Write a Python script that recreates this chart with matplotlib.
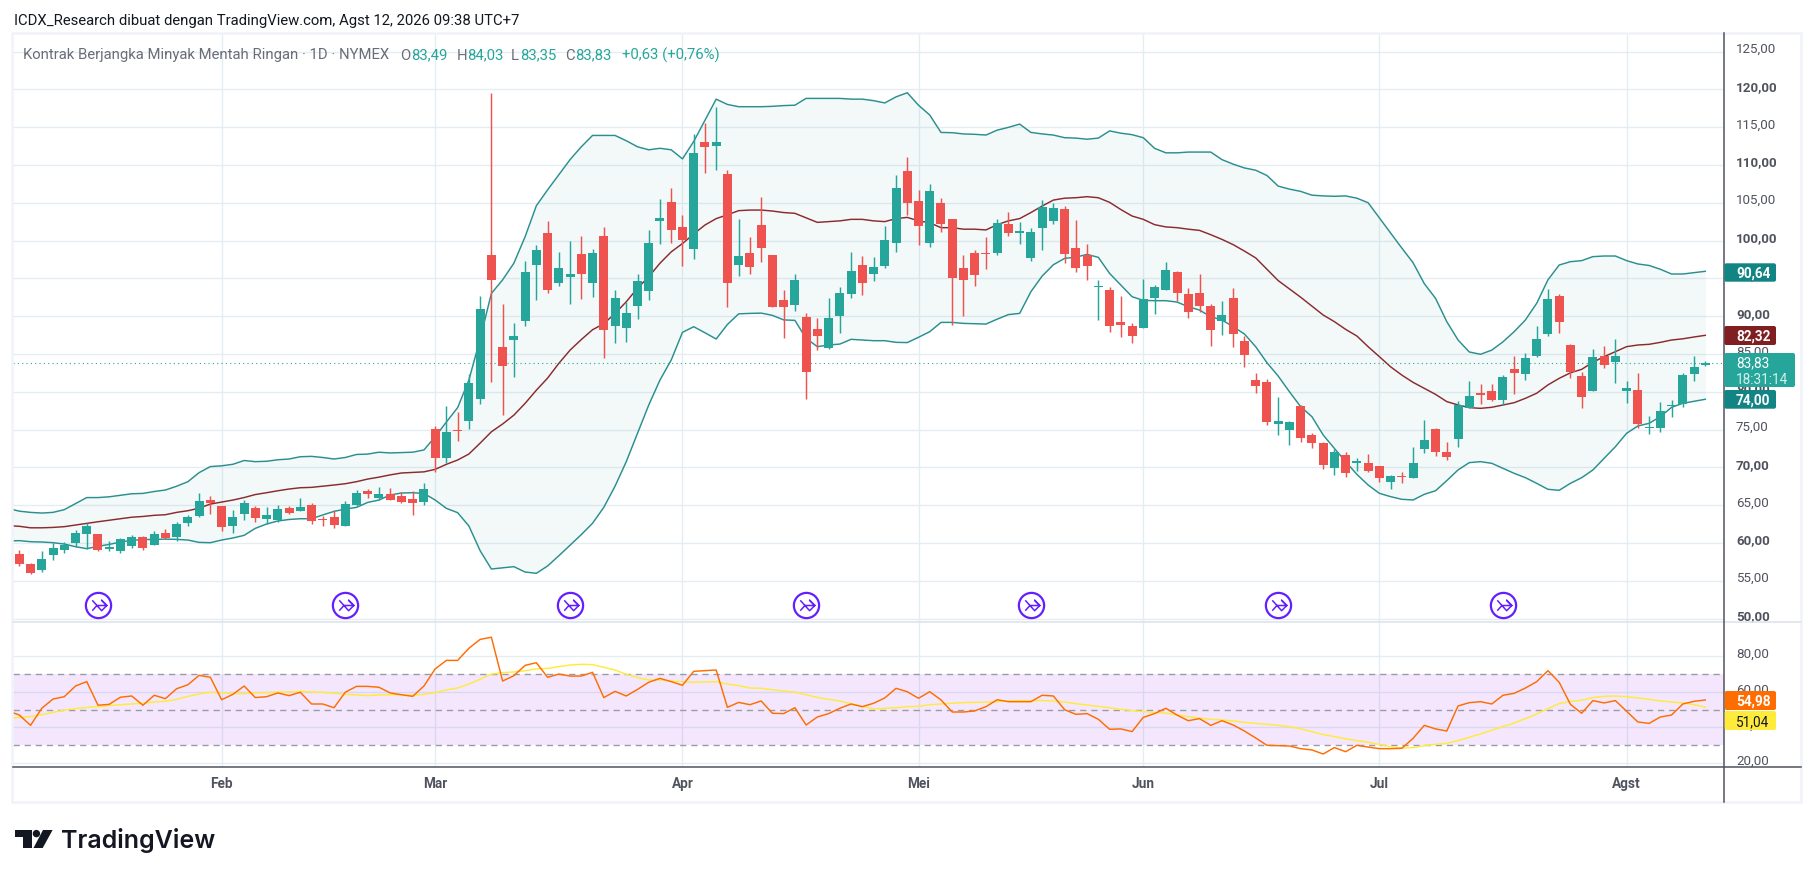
import matplotlib
matplotlib.use('Agg')
import matplotlib.pyplot as plt
import numpy as np
from matplotlib.patches import Rectangle, Polygon, Circle, FancyBboxPatch
from matplotlib.path import Path
from matplotlib.transforms import Affine2D, ScaledTranslation

plt.rcParams['font.family'] = ['Roboto', 'DejaVu Sans']

# daily candles, one row per session
opens = [58.53,57.21,56.41,58.40,59.06,59.99,61.18,61.18,59.19,58.93,59.59,60.78,59.72,61.31,60.78,62.63,63.56,65.67,64.88,62.23,
         63.82,64.61,63.16,63.03,64.61,64.22,65.01,63.20,63.42,62.23,65.01,66.86,65.94,66.47,66.20,65.81,65.41,75.07,71.23,74.94,
         76.13,79.03,98.08,85.91,86.84,89.35,96.76,100.99,94.38,95.17,98.21,94.38,100.60,88.69,88.43,91.34,93.32,102.58,105.09,101.79,
         98.88,113.03,112.50,108.80,96.76,98.35,102.05,98.08,92.13,91.47,89.88,88.29,85.78,90.01,92.92,96.76,95.57,96.62,99.67,109.19,
         105.22,99.67,104.96,102.84,96.36,98.34,98.34,98.34,102.18,101.03,97.68,101.65,102.58,104.16,99.00,98.08,93.85,93.45,89.22,88.69,
         88.42,92.39,93.45,95.83,92.92,93.05,91.33,89.35,92.39,86.70,81.54,81.28,75.72,74.93,78.11,74.28,73.22,69.91,71.63,70.62,
         70.57,70.18,68.06,68.85,68.59,72.42,75.07,72.03,73.75,77.85,79.83,80.10,78.91,83.01,82.35,84.73,87.64,92.66,86.18,82.08,
         80.10,84.73,83.93,80.10,80.23,75.25,75.20,78.11,78.38,82.35,83.49]
highs = [59.06,57.34,58.93,60.03,60.12,61.70,62.59,61.18,60.25,60.65,61.04,60.91,61.57,61.84,62.76,63.69,66.60,66.20,64.88,64.35,
         65.67,64.88,64.75,65.01,64.88,65.94,65.28,63.56,64.35,65.54,66.99,67.13,67.39,67.26,66.73,66.86,67.92,75.47,78.11,77.32,
         82.35,92.66,119.51,91.60,89.09,97.29,99.40,102.58,98.48,99.93,100.60,98.88,101.79,93.45,91.87,95.57,101.39,105.49,106.94,103.37,
         114.09,115.54,117.66,109.33,102.84,100.46,105.75,98.08,93.45,95.57,90.41,89.75,92.39,93.85,98.48,97.95,97.82,101.91,108.66,111.04,
         106.68,107.47,105.62,102.84,98.08,98.74,100.46,102.84,103.77,102.44,101.65,105.35,104.96,104.56,102.71,99.53,94.77,93.85,92.66,89.08,
         94.90,94.11,97.15,95.96,93.71,95.57,91.60,91.99,93.71,87.36,82.47,81.68,79.29,76.12,78.24,74.54,73.35,72.42,72.03,71.23,
         71.76,70.18,68.99,69.38,72.69,76.26,75.20,73.35,78.77,81.42,81.02,81.02,82.21,84.73,85.12,88.69,93.59,92.93,86.31,82.61,
         85.65,86.05,86.97,81.42,82.48,76.79,78.64,78.91,82.48,84.73,84.03]
lows = [56.94,55.88,56.15,57.74,58.66,59.50,59.19,58.93,58.93,58.66,59.32,59.06,59.72,60.47,60.25,62.23,63.42,63.82,61.57,61.31,
        63.03,62.76,62.50,62.76,63.82,64.22,62.50,62.23,61.97,62.23,64.88,65.94,65.67,65.67,65.28,63.69,65.01,69.38,70.57,73.48,
        75.07,78.37,81.28,76.92,81.94,88.69,92.13,93.06,93.98,91.60,92.26,92.53,84.46,86.44,86.57,89.62,92.13,99.54,99.67,96.63,
        97.55,108.93,109.33,91.20,95.30,95.57,97.16,91.20,87.10,90.67,79.03,85.52,85.65,87.76,92.39,92.79,94.64,96.36,98.48,103.37,
        99.40,99.14,101.12,88.82,90.01,93.98,96.23,98.08,100.59,99.53,97.28,98.74,102.18,97.02,95.83,94.77,89.48,87.89,87.23,86.44,
        88.42,90.27,93.45,91.99,89.74,90.54,86.04,87.50,85.91,83.26,79.82,75.59,74.27,72.95,73.34,72.56,69.78,68.99,68.72,69.51,
        69.38,68.06,67.13,67.93,68.59,71.89,71.50,70.97,72.69,77.85,78.38,78.77,78.25,79.70,81.55,84.59,87.37,87.77,81.82,77.85,
        80.10,83.14,81.15,78.51,75.20,74.41,74.67,76.66,77.98,81.42,83.35]
closes = [57.21,56.02,57.87,59.32,59.72,61.31,62.23,59.06,59.46,60.51,60.78,59.32,61.18,60.65,62.50,63.38,65.54,65.28,62.10,63.42,
          65.28,63.29,63.69,64.48,63.95,64.75,62.90,63.07,62.37,65.14,66.60,66.47,66.47,65.67,65.41,65.28,67.13,71.23,74.67,74.81,
          81.16,90.94,94.77,83.40,87.37,95.83,98.74,93.45,96.36,95.57,95.57,98.35,88.16,92.39,90.41,94.64,99.67,102.98,101.39,100.07,
          111.57,112.37,113.03,94.38,97.95,96.50,99.01,91.20,91.20,94.77,82.61,87.37,89.75,93.06,95.97,94.38,96.50,100.06,106.94,104.96,
          101.91,106.54,102.18,95.04,94.77,95.43,98.21,102.31,100.99,101.25,101.12,104.43,104.29,98.21,96.36,96.62,93.98,88.69,88.82,87.36,
          92.26,93.85,96.09,93.05,90.54,91.33,88.16,90.14,87.63,84.85,80.75,75.99,76.12,75.99,73.87,73.22,70.31,72.03,69.25,70.84,
          69.51,68.59,68.85,68.72,70.57,73.61,72.03,71.37,78.25,79.43,79.57,78.91,81.95,82.48,84.46,86.97,92.27,89.22,82.61,79.30,
          84.59,83.54,84.73,80.49,75.73,75.38,77.45,78.25,82.21,83.27,83.83]

# bollinger bands, these start one session before the first visible candle
bb_upper = [64.57,64.20,64.04,63.95,64.04,64.40,65.20,66.00,66.00,66.10,66.30,66.50,66.55,66.80,67.00,67.50,68.10,69.30,70.10,70.20,
            70.40,70.90,70.75,70.80,71.00,71.10,71.40,71.45,71.30,71.10,71.30,71.70,71.75,72.00,71.90,71.95,72.00,72.30,74.05,76.00,
            77.90,81.55,87.00,93.00,94.80,97.00,100.50,104.60,106.70,108.70,110.70,112.40,113.90,113.90,113.90,113.20,112.40,112.00,112.20,112.00,
            110.80,113.10,115.90,118.70,118.00,117.70,117.70,117.70,117.75,117.85,117.90,118.80,118.80,118.80,118.80,118.70,118.70,118.50,118.20,119.00,
            119.55,117.90,116.60,114.30,114.26,114.10,114.05,113.95,114.60,114.97,115.40,114.30,114.10,113.95,113.60,113.55,113.40,113.55,114.50,114.20,
            114.00,113.60,112.20,111.60,111.60,111.70,111.70,111.70,110.70,110.10,109.60,109.30,108.60,107.20,106.80,106.50,106.00,105.90,105.85,105.90,
            105.60,105.00,103.00,101.00,99.00,97.07,94.30,92.35,89.27,86.85,85.26,84.95,85.50,86.60,87.95,89.50,91.70,94.80,96.76,97.20,
            97.34,97.87,97.95,97.95,97.34,96.90,96.70,96.20,95.57,95.57,95.75,95.93]
bb_middle = [62.28,62.20,62.00,62.00,62.05,62.15,62.37,62.60,62.80,63.00,63.20,63.40,63.50,63.65,63.73,64.04,64.26,64.60,65.14,65.40,
             65.67,66.00,66.40,66.64,66.90,67.13,67.30,67.35,67.50,67.66,67.83,68.10,68.45,68.70,69.00,69.25,69.33,69.40,69.73,70.40,
             70.97,71.76,73.20,74.70,75.73,76.90,78.46,80.20,81.80,83.75,85.50,86.90,88.20,89.00,90.35,91.90,93.70,95.20,97.00,98.50,
             99.60,100.86,102.05,102.90,103.40,103.95,104.03,104.03,103.90,103.70,103.60,103.00,102.40,102.50,102.60,102.80,102.80,102.60,102.50,102.90,
             103.06,102.60,102.35,101.70,101.70,101.50,101.50,101.40,102.10,102.60,102.90,103.70,104.56,105.35,105.60,105.66,105.80,105.66,105.05,104.10,
             103.24,102.80,102.10,101.80,101.70,101.50,101.34,100.77,100.15,99.45,98.60,97.70,96.20,94.70,93.60,92.50,91.33,90.15,89.27,88.25,
             87.37,85.96,84.64,83.30,82.20,81.24,80.45,79.65,78.69,78.25,77.90,77.80,77.94,78.25,78.55,79.13,79.80,80.90,81.77,82.50,
             82.96,83.90,84.64,85.30,85.96,86.18,86.27,86.53,86.84,87.00,87.24,87.46]
bb_lower = [60.25,60.30,60.16,60.12,60.03,59.85,59.50,59.24,59.55,59.80,60.12,60.34,60.43,60.47,60.50,60.47,60.38,60.07,60.03,60.38,
            60.65,61.00,61.93,62.50,62.90,63.10,63.20,63.20,63.70,64.17,64.48,64.70,65.36,65.67,66.34,66.60,66.64,66.55,65.67,64.57,
            64.00,62.24,58.97,56.55,56.70,56.86,56.15,55.98,56.95,58.30,59.70,61.10,62.60,64.70,67.50,70.75,74.50,78.24,81.55,84.19,
            87.85,88.60,87.80,86.97,88.90,90.30,90.36,90.40,90.10,89.50,89.44,87.06,85.96,86.18,86.30,86.93,86.84,86.75,86.75,86.53,
            86.50,87.20,87.94,89.17,89.17,89.04,89.00,88.95,89.60,90.20,90.36,93.23,95.30,96.80,97.64,97.80,98.17,97.77,95.65,94.11,
            92.57,92.08,92.04,92.04,91.86,91.24,90.80,89.92,89.48,88.60,87.63,85.95,83.84,82.07,80.00,78.02,76.70,74.28,72.50,70.75,
            69.07,67.66,66.56,66.12,65.77,65.68,66.43,66.90,68.24,69.65,70.62,70.75,70.53,69.87,69.20,68.63,67.88,67.09,66.96,67.88,
            68.63,69.65,71.19,72.73,74.50,75.47,75.82,76.70,77.94,78.47,78.73,79.00]

# rsi and its moving average, same start as the bands
rsi = [49.3,47.0,41.2,50.8,56.0,57.3,63.3,65.8,52.5,53.0,57.0,57.7,52.5,58.1,56.2,61.8,64.0,69.3,68.2,55.6,
       58.6,63.3,56.8,57.3,59.4,57.9,59.8,53.2,53.2,51.1,59.8,63.1,63.1,62.6,59.4,58.4,57.5,63.3,72.9,77.7,
       77.7,84.5,89.5,90.7,66.1,69.1,74.9,76.4,68.2,70.0,68.9,68.9,71.0,56.8,60.3,57.7,61.4,65.4,67.6,65.75,
       63.7,71.55,71.9,72.3,51.3,54.1,52.8,54.9,48.0,47.8,51.1,41.4,45.9,47.8,50.8,53.2,51.7,53.6,56.6,62.0,
       60.1,56.4,60.1,55.5,48.7,48.7,49.3,51.7,55.6,54.5,54.5,54.5,58.1,57.7,50.0,47.4,47.8,44.6,39.0,39.2,
       37.7,45.7,47.8,50.8,47.0,43.8,45.0,41.2,43.8,41.4,38.0,34.1,30.0,29.8,29.6,28.1,27.4,25.1,28.7,26.4,
       30.0,29.0,28.1,28.1,28.3,33.9,41.2,39.2,38.0,52.1,53.95,54.5,53.2,58.1,59.2,62.2,65.75,71.9,65.4,53.0,
       48.0,55.1,53.8,55.1,49.1,43.1,42.3,45.9,47.0,53.2,54.7,55.45]
rsi_ma = [45.1,45.7,46.1,47.2,48.5,49.8,50.6,51.3,51.7,52.3,52.8,53.2,53.6,54.3,54.7,55.8,57.5,58.8,59.8,59.6,
          59.0,59.0,59.4,59.6,59.9,59.9,60.3,59.9,59.8,59.2,58.6,58.3,57.9,58.3,58.4,58.4,58.1,58.6,59.6,61.1,
          62.2,64.4,67.1,70.0,70.8,71.2,71.9,72.9,73.2,74.2,75.1,75.5,75.3,73.8,72.3,69.9,68.0,66.7,66.7,66.1,
          65.75,65.4,65.6,65.75,64.4,63.5,62.2,62.0,61.2,60.5,59.9,58.4,56.9,55.8,54.9,53.4,51.9,50.4,50.8,51.1,
          51.7,51.9,52.8,53.2,53.6,54.0,54.1,54.3,54.5,54.9,55.1,55.1,55.1,54.9,54.3,53.4,52.6,51.9,51.1,50.2,
          49.5,48.9,48.5,48.1,47.0,46.1,45.3,44.6,44.2,43.7,42.9,42.3,41.8,41.2,40.5,39.2,37.7,36.0,34.9,33.7,
          32.6,31.7,30.4,29.2,28.5,28.7,29.8,30.5,31.1,32.6,34.5,36.4,38.4,40.5,42.5,45.0,47.6,50.6,53.4,54.7,
          55.3,56.8,57.5,57.7,57.3,56.6,55.8,54.9,54.3,53.8,52.8,51.5]

month_idx = [18, 37, 59, 80, 100, 121, 143]
month_labels = ['Feb', 'Mar', 'Apr', 'Mei', 'Jun', 'Jul', 'Agst']
price_ticks = [50, 55, 60, 65, 70, 75, 80, 85, 90, 95, 100, 105, 110, 115, 120, 125]
rsi_ticks = [20, 40, 60, 80]
rollover_idx = [7, 29, 49, 70, 90, 112, 132]
last_price = 83.83

W, H = 1814, 877
GREEN, RED = '#26a69a', '#ef5350'
GRID = '#e4edf2'
TEAL = '#2a8f8f'
TEXT = '#50535e'
HEAD_SIZE = 10.75

fig = plt.figure(figsize=(W / 100, H / 100), dpi=100, facecolor='white')
# pixel coordinates for the page furniture
px = Affine2D().scale(1 / W, -1 / H).translate(0, 1) + fig.transFigure
# axis numbers sit a little above their gridlines
lift = ScaledTranslation(0, 3.5 / 100, fig.dpi_scale_trans)

def pane(x0, y0, x1, y1):
    ax = fig.add_axes([x0 / W, 1 - y1 / H, (x1 - x0) / W, (y1 - y0) / H])
    for s in ax.spines.values():
        s.set_visible(False)
    ax.yaxis.tick_right()
    ax.tick_params(length=0)
    ax.tick_params(axis='y', pad=8.4)
    ax.set_axisbelow(True)
    ax.grid(True, color=GRID, lw=1.0)
    return ax

def comma(v):
    return f'{v:.2f}'.replace('.', ',')

n = len(closes)
x = np.arange(n)
band_x = np.arange(-1, n)
xlim = (-0.605, 151.69)

# price pane
ax = pane(12.5, 33, 1724.3, 622)
o, h, l, c = map(np.array, (opens, highs, lows, closes))
colors = [GREEN if b >= a else RED for a, b in zip(opens, closes)]
ax.fill_between(band_x, bb_lower, bb_upper, color='#26898a', alpha=0.05, lw=0, zorder=1)
ax.plot(band_x, bb_upper, color=TEAL, lw=1.05, zorder=2)
ax.plot(band_x, bb_lower, color=TEAL, lw=1.05, zorder=2)
ax.plot(band_x, bb_middle, color='#8a2b2e', lw=1.05, zorder=2)
ax.vlines(x, l, h, colors=colors, lw=1.05, zorder=3)
ax.bar(x, np.abs(c - o), bottom=np.minimum(o, c), width=0.8, color=colors, lw=0, zorder=4)
ax.axhline(last_price, color=GREEN, lw=0.8, ls=(0, (1, 2.9)), zorder=3)
ax.set_xlim(*xlim)
ax.set_ylim(49.54, 127.45)
ax.set_xticks(month_idx)
ax.set_xticklabels([])
ax.set_yticks(price_ticks)
ax.set_yticklabels([comma(v) for v in price_ticks], fontsize=9.6, color=TEXT)
for v, lab in zip(price_ticks, ax.get_yticklabels()):
    lab.set_transform(lab.get_transform() + lift)
    if v % 10 == 0:
        lab.set_fontweight('bold')

# contract rollover markers
glyph = Path([(-0.6, 0.5), (-0.15, 0.0), (0.8, 0.0), (0.3, 0.5), (0.8, 0.0), (0.3, -0.5), (-0.15, 0.0), (-0.6, -0.5)])
roll_y = [51.75] * len(rollover_idx)
ax.scatter(rollover_idx, roll_y, s=330, facecolor='white', edgecolor='#651fff', lw=1.6, zorder=6, clip_on=False)
ax.plot(rollover_idx, roll_y, ls='none', marker=glyph, ms=12, mfc='none', mec='#651fff', mew=1.1, zorder=7)

# rsi pane
ax2 = pane(12.5, 622.3, 1724.3, 767)
ax2.tick_params(axis='x', pad=7)
ax2.axhspan(30, 70, color='#9c27f0', alpha=0.11, lw=0, zorder=1)
for lvl in (70, 50, 30):
    ax2.axhline(lvl, color='#9a9ba5', lw=1.0, ls=(0, (4.5, 3.5)), zorder=2)
ax2.plot(band_x, rsi_ma, color='#ffeb3b', lw=1.05, zorder=3)
ax2.plot(band_x, rsi, color='#ff6d00', lw=1.05, zorder=4)
ax2.set_xlim(*xlim)
ax2.set_ylim(17.8, 99.1)
ax2.set_xticks(month_idx)
ax2.set_xticklabels(month_labels, fontsize=9.8, color=TEXT, fontweight='bold')
ax2.set_yticks(rsi_ticks)
ax2.set_yticklabels([comma(v) for v in rsi_ticks], fontsize=9.6, color=TEXT)
for lab in ax2.get_yticklabels():
    lab.set_transform(lab.get_transform() + lift)

# frame and axis lines
fig.add_artist(Rectangle((12, 33), 1789, 769, transform=px, fill=False, ec='#f0f3fa', lw=1.8, zorder=1))
fig.add_artist(plt.Line2D([12.5, 1801], [622.3, 622.3], transform=px, color='#e0e3eb', lw=1.2, zorder=1))
fig.add_artist(plt.Line2D([12.5, 1801], [767, 767], transform=px, color=TEXT, lw=1.1, zorder=2))
fig.add_artist(plt.Line2D([1724.3, 1724.3], [33, 802], transform=px, color=TEXT, lw=1.1, zorder=2))

def label(text, x0, x1, y0, y1, bg, fg='white', bold=True):
    fig.add_artist(FancyBboxPatch((x0, y0), x1 - x0, y1 - y0, boxstyle='round,pad=0,rounding_size=2',
                                  transform=px, fc=bg, ec='none', zorder=3))
    fig.text(1736, (y0 + y1) / 2, text, transform=px, color=fg, fontsize=9.8, va='center_baseline', ha='left',
             fontweight='bold' if bold else 'normal', zorder=4)

label('90,64', 1724.3, 1776, 263.3, 281.7, '#138484')
label('82,32', 1724.3, 1776, 326, 345, '#801f22')
label('74,00', 1724.3, 1776, 390, 408.7, '#138484')
fig.add_artist(FancyBboxPatch((1724.3, 353), 70.7, 34, boxstyle='round,pad=0,rounding_size=2',
                              transform=px, fc=GREEN, ec='none', zorder=3))
fig.text(1736, 362, '83,83', transform=px, color='white', fontsize=9.8, va='center_baseline', zorder=4)
fig.text(1736, 378, '18:31:14', transform=px, color='#d4eeeb', fontsize=9.8, va='center_baseline', zorder=4)
label('54,98', 1724.7, 1776, 691, 710, '#ff6d00')
label('51,04', 1724.7, 1776, 711, 730, '#ffeb3b', fg='#131722', bold=False)

# header texts
fig.text(13.5, 20, 'ICDX_Research dibuat dengan TradingView.com, Agst 12, 2026 09:38 UTC+7', transform=px,
         color='#131722', fontsize=HEAD_SIZE, va='center_baseline')
fig.text(23, 54, 'Kontrak Berjangka Minyak Mentah Ringan · 1D · NYMEX', transform=px,
         color='#6a6d78', fontsize=HEAD_SIZE, va='center_baseline', zorder=4)
for xp, s, col in [(400.5, 'O', '#6a6d78'), (411, '83,49', GREEN), (457, 'H', '#6a6d78'), (467, '84,03', GREEN),
                   (511, 'L', '#6a6d78'), (520, '83,35', GREEN), (565, 'C', '#6a6d78'), (575, '83,83', GREEN),
                   (622, '+0,63 (+0,76%)', GREEN)]:
    fig.text(xp, 54, s, transform=px, color=col, fontsize=HEAD_SIZE, va='center_baseline', zorder=4)

# tradingview logo
LOGO = '#131722'
fig.add_artist(Polygon([(15, 830), (31.6, 830), (31.6, 848), (23, 848), (23, 837.3), (15, 837.3)], transform=px, fc=LOGO, ec='none'))
fig.add_artist(Circle((36.4, 833.6), 3.7, transform=px, fc=LOGO, ec='none'))
fig.add_artist(Polygon([(43, 830), (52.6, 830), (42.7, 848), (33.5, 848)], transform=px, fc=LOGO, ec='none'))
fig.text(61.5, 848, 'TradingView', transform=px, color=LOGO, fontsize=18, family='Inter', fontweight='semibold', va='baseline')

fig.savefig('out.png', dpi=100)
